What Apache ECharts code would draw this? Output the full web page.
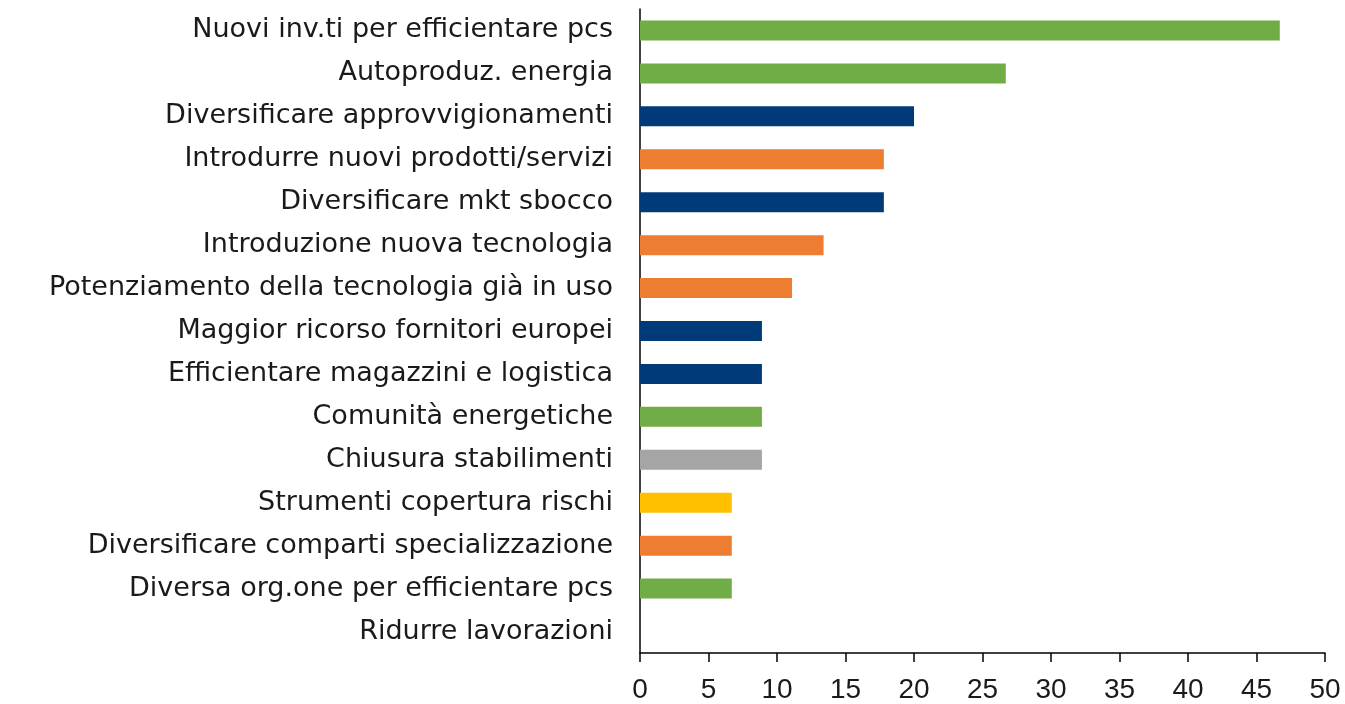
<!DOCTYPE html>
<html>
<head>
<meta charset="utf-8">
<script src="https://cdn.jsdelivr.net/npm/echarts@6/dist/echarts.min.js"></script>
<style>
  html, body { margin: 0; padding: 0; background: #fff; }
  #chart { width: 1345px; height: 704px; }
</style>
</head>
<body>
<div id="chart"></div>
<script>
  // categorie dall'alto in basso
  const categories = [
    'Nuovi inv.ti per efficientare pcs',
    'Autoproduz. energia',
    'Diversificare approvvigionamenti',
    'Introdurre nuovi prodotti/servizi',
    'Diversificare mkt sbocco',
    'Introduzione nuova tecnologia',
    'Potenziamento della tecnologia già in uso',
    'Maggior ricorso fornitori europei',
    'Efficientare magazzini e logistica',
    'Comunità energetiche',
    'Chiusura stabilimenti',
    'Strumenti copertura rischi',
    'Diversificare comparti specializzazione',
    'Diversa org.one per efficientare pcs',
    'Ridurre lavorazioni'
  ];
  const values = [46.7, 26.7, 20.0, 17.8, 17.8, 13.4, 11.1, 8.9, 8.9, 8.9, 8.9, 6.7, 6.7, 6.7, 0];
  // tipo di misura -> colore
  const groups = ['energia', 'energia', 'filiera', 'prodotto', 'filiera', 'prodotto', 'prodotto',
    'filiera', 'filiera', 'energia', 'chiusura', 'rischi', 'prodotto', 'energia', 'prodotto'];
  const groupColors = {
    energia: '#70ad47',
    filiera: '#003a78',
    prodotto: '#ed7d31',
    chiusura: '#a5a5a5',
    rischi: '#ffc000'
  };
  const xTicks = [0, 5, 10, 15, 20, 25, 30, 35, 40, 45, 50];

  const myChart = echarts.init(document.getElementById('chart'));
  const option = {
    animation: false,
    grid: { left: 640, right: 20, top: 9, bottom: 50 },
    xAxis: {
      type: 'value',
      min: xTicks[0],
      max: xTicks[xTicks.length - 1],
      interval: 5,
      splitLine: { show: false },
      axisLine: { show: true, lineStyle: { color: '#000', width: 1.5 } },
      axisTick: { show: true, length: 9, lineStyle: { color: '#000', width: 1.5 } },
      axisLabel: { color: '#1a1a1a', fontSize: 28, fontFamily: 'Liberation Sans', margin: 23 }
    },
    yAxis: {
      type: 'category',
      inverse: true,
      data: categories,
      axisLine: { show: true, lineStyle: { color: '#000', width: 1.5 } },
      axisTick: { show: false },
      axisLabel: { color: '#1a1a1a', fontSize: 27, fontFamily: 'DejaVu Sans', margin: 27 }
    },
    series: [{
      type: 'bar',
      barWidth: 20,
      data: values.map(function (v, i) {
        return { value: v, itemStyle: { color: groupColors[groups[i]] } };
      })
    }]
  };
  myChart.setOption(option);
</script>
</body>
</html>
